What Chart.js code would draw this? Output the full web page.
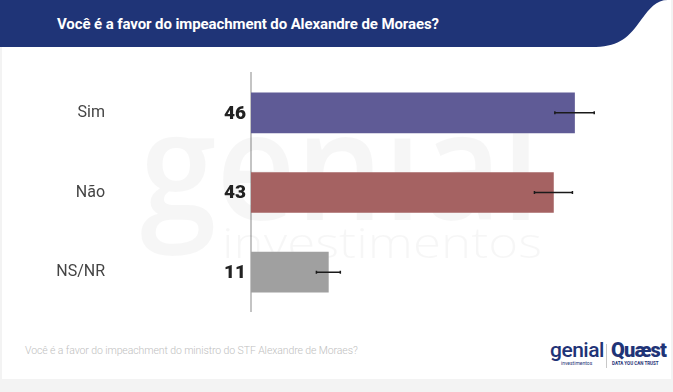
<!DOCTYPE html>
<html>
<head>
<meta charset="utf-8">
<script src="https://cdn.jsdelivr.net/npm/chart.js@4.4.1/dist/chart.umd.min.js"></script>
<style>
    body { margin: 0; width: 673px; height: 392px; background: #f3f3f3; font-family: Roboto, sans-serif; overflow: hidden; }
    #card { position: absolute; left: 2px; top: 0; width: 669px; height: 379px; background: #fff; }
    #header { position: absolute; left: 0; top: 0; }
    #title { position: absolute; left: 57px; top: 15px; color: #fff; font-weight: 700; font-size: 15px; letter-spacing: -0.1px; }
    #chartBox { position: absolute; left: 0; top: 48px; width: 673px; height: 264px; }
    #note { position: absolute; left: 25px; top: 344px; color: #c0c0c0; font-size: 10.5px; font-weight: 300; letter-spacing: -0.1px; }
    .logo { position: absolute; color: #1f3477; }
</style>
</head>
<body>
<div id="card"></div>
<svg id="header" width="673" height="50">
    <path d="M0 0 H668 C656 0 650 8 641 20 C629 37 620 46 596 47 H0 Z" fill="#1f3477"/>
</svg>
<div id="title">Você é a favor do impeachment do Alexandre de Moraes?</div>
<div id="chartBox"><canvas id="myBarChart"></canvas></div>
<div id="note">Você é a favor do impeachment do ministro do STF Alexandre de Moraes?</div>
<div class="logo" style="left:550px;top:338px;font-size:21px;font-weight:500;letter-spacing:-0.5px;">genial</div>
<div class="logo" style="left:561px;top:360px;font-size:5px;">investimentos</div>
<div style="position:absolute;left:606px;top:344px;width:1px;height:24px;background:#c8c8c8;"></div>
<div class="logo" style="left:611px;top:338px;font-size:20px;font-weight:900;letter-spacing:-0.8px;">Quæst</div>
<div class="logo" style="left:612px;top:361px;font-size:4.5px;font-weight:700;">DATA YOU CAN TRUST</div>
<script>
var categories = ['Sim', 'Não', 'NS/NR'];
var values = [46, 43, 11];
var errors = [2.8, 2.7, 1.7];
var barColors = ['#5f5b96', '#a56262', '#a0a0a0'];

// faint "genial investimentos" watermark behind the bars
const watermark = {
    id: 'watermark',
    beforeDatasetsDraw(chart) {
        const ctx = chart.ctx;
        ctx.save();
        ctx.fillStyle = 'rgba(0,0,0,0.035)';
        ctx.textBaseline = 'alphabetic';
        ctx.font = '600 150px "Open Sans"';
        var w = ctx.measureText('genial').width;
        ctx.translate(140, 172);
        ctx.scale(400 / w, 1);
        ctx.fillText('genial', 0, 0);
        ctx.restore();
        ctx.save();
        ctx.fillStyle = 'rgba(0,0,0,0.035)';
        ctx.font = '300 42px "Open Sans"';
        w = ctx.measureText('investimentos').width;
        ctx.translate(222, 210);
        ctx.scale(320 / w, 1);
        ctx.fillText('investimentos', 0, 0);
        ctx.restore();
    }
};

// category names, bold value labels and error bars
const extras = {
    id: 'extras',
    afterDatasetsDraw(chart) {
        const ctx = chart.ctx;
        const x = chart.scales.x;
        const yScale = chart.scales.y;
        ctx.save();
        categories.forEach(function (cat, i) {
            var y = yScale.getPixelForValue(i);
            var x1 = x.getPixelForValue(values[i] - errors[i]);
            var x2 = x.getPixelForValue(values[i] + errors[i]);
            ctx.strokeStyle = '#1a1a1a';
            ctx.lineWidth = 1.5;
            ctx.beginPath();
            ctx.moveTo(x1, y); ctx.lineTo(x2, y);
            ctx.moveTo(x1, y - 1.5); ctx.lineTo(x1, y + 1.5);
            ctx.moveTo(x2, y - 1.5); ctx.lineTo(x2, y + 1.5);
            ctx.stroke();
            ctx.textAlign = 'right';
            ctx.textBaseline = 'middle';
            ctx.fillStyle = '#222';
            ctx.font = '900 19px Roboto';
            ctx.fillText(String(values[i]), chart.chartArea.left - 5, y + 1);
            ctx.fillStyle = '#444';
            ctx.font = '16px Roboto';
            ctx.fillText(cat, 105, y);
        });
        ctx.restore();
    }
};

const config = {
    type: 'bar',
    data: {
        labels: categories,
        datasets: [{
            data: values,
            backgroundColor: barColors,
            barThickness: 40
        }]
    },
    options: {
        indexAxis: 'y',
        responsive: true,
        maintainAspectRatio: false,
        animation: false,
        layout: { padding: { top: 25, bottom: 0, left: 251, right: 0 } },
        plugins: {
            legend: { display: false },
            tooltip: { enabled: false }
        },
        scales: {
            x: {
                display: false,
                min: 0,
                max: 60
            },
            y: {
                grid: { display: false, drawTicks: false },
                border: { display: true, color: '#c4c4c4', width: 2 },
                ticks: { display: false }
            }
        }
    },
    plugins: [watermark, extras]
};

const myBarChart = new Chart(document.getElementById('myBarChart'), config);
</script>
</body>
</html>
